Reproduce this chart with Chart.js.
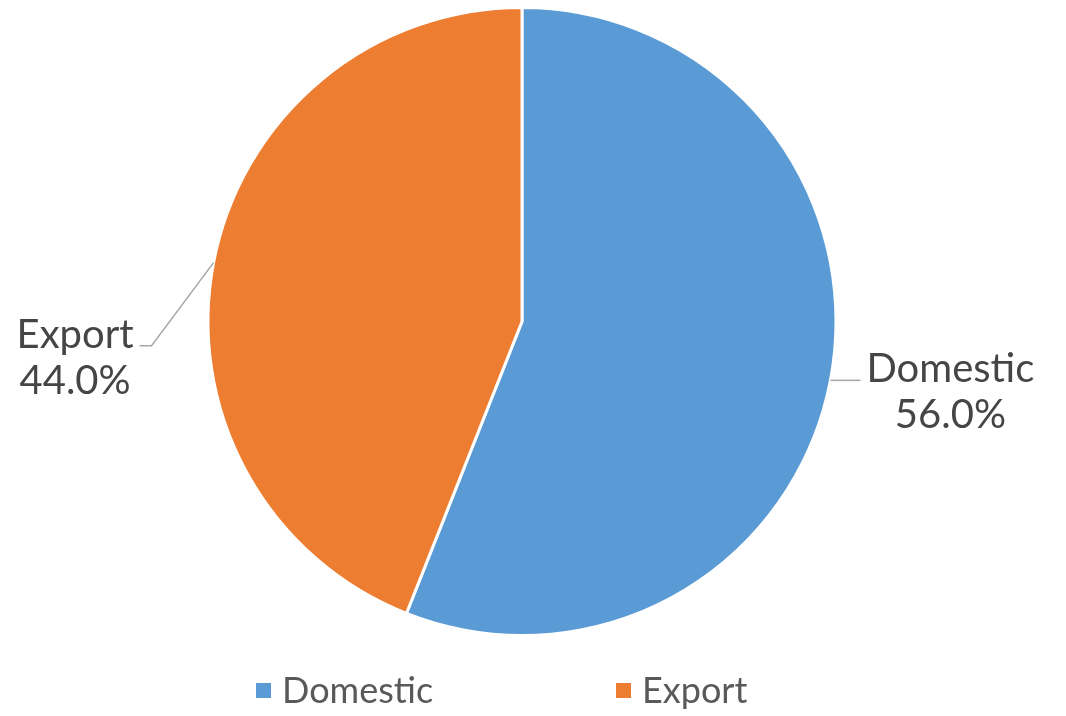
<!DOCTYPE html>
<html>
<head>
<meta charset="utf-8">
<script src="https://cdn.jsdelivr.net/npm/chart.js@4/dist/chart.umd.min.js"></script>
<style>
	html, body { margin: 0; padding: 0; background: #fff; }
	#wrap { width: 1066px; height: 716px; position: relative; }
</style>
</head>
<body>
<div id="wrap"><canvas id="chart"></canvas></div>
<script>
var categories = [ 'Domestic', 'Export' ];
var shares = [ 56.0, 44.0 ];
var sliceColors = [ '#5B9BD5', '#ED7D31' ];

var FONT = 'Lato, "DejaVu Sans", sans-serif';

// Leader line shape for each slice label: elbow offset from the slice edge, then a short horizontal run
var leaders = [
	{ elbowX: 0, elbowY: 0, run: 30 },
	{ elbowX: -62, elbowY: 83, run: -12 }
];

var outsideLabels = {
	id: 'outsideLabels',
	afterDatasetsDraw: function ( chart ) {
		var ctx = chart.ctx;
		var meta = chart.getDatasetMeta( 0 );
		ctx.save();
		ctx.font = '40px ' + FONT;
		meta.data.forEach( function ( arc, i ) {
			var p = arc.getProps( [ 'x', 'y', 'startAngle', 'endAngle', 'outerRadius' ], true );
			var mid = ( p.startAngle + p.endAngle ) / 2;
			var sx = p.x + Math.cos( mid ) * p.outerRadius;
			var sy = p.y + Math.sin( mid ) * p.outerRadius;
			var lead = leaders[ i ];
			var ex = sx + lead.elbowX, ey = sy + lead.elbowY;
			var tx = ex + lead.run;

			ctx.strokeStyle = '#a6a6a6';
			ctx.lineWidth = 1.5;
			ctx.beginPath();
			ctx.moveTo( sx, sy );
			ctx.lineTo( ex, ey );
			ctx.lineTo( tx, ey );
			ctx.stroke();

			var lines = [ categories[ i ], shares[ i ].toFixed( 1 ) + '%' ];
			var w = Math.max.apply( null, lines.map( function ( s ) { return ctx.measureText( s ).width; } ) );
			var cx = lead.run >= 0 ? tx + 6 + w / 2 : tx - 6 - w / 2;
			ctx.fillStyle = '#454545';
			ctx.textAlign = 'center';
			ctx.textBaseline = 'alphabetic';
			lines.forEach( function ( s, k ) {
				ctx.fillText( s, cx, ey + 2 + k * 46 );
			} );
		} );
		ctx.restore();
	}
};

// Legend in two wide columns under the pie
var bottomLegend = {
	id: 'bottomLegend',
	afterDraw: function ( chart ) {
		var ctx = chart.ctx;
		var left = 256, step = 360, midY = 691;
		ctx.save();
		ctx.font = '36px ' + FONT;
		ctx.textBaseline = 'middle';
		ctx.textAlign = 'left';
		categories.forEach( function ( name, i ) {
			var x = left + i * step;
			ctx.fillStyle = sliceColors[ i ];
			ctx.fillRect( x, midY - 8, 15, 15 );
			ctx.fillStyle = '#595959';
			ctx.fillText( name, x + 26, midY );
		} );
		ctx.restore();
	}
};

new Chart( document.getElementById( 'chart' ), {
	type: 'pie',
	data: {
		labels: categories,
		datasets: [ {
			data: shares,
			backgroundColor: sliceColors,
			borderColor: '#ffffff',
			borderWidth: 3
		} ]
	},
	options: {
		responsive: true,
		maintainAspectRatio: false,
		animation: false,
		layout: { padding: { top: 6, bottom: 79, left: 0, right: 22 } },
		plugins: {
			legend: { display: false },
			tooltip: { enabled: false }
		}
	},
	plugins: [ outsideLabels, bottomLegend ]
} );
</script>
</body>
</html>
